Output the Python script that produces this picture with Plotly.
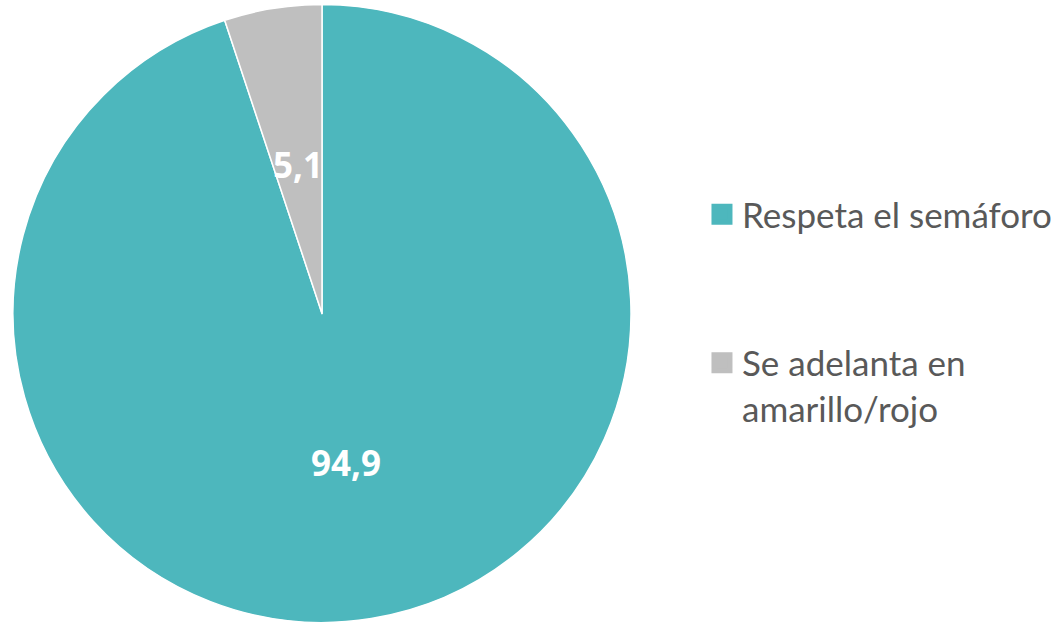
import math

import plotly.graph_objects as go

LABELS = ["Respeta el semáforo", "Se adelanta en<br>amarillo/rojo"]
VALUES = [94.9, 5.1]
VALUE_TEXT = ["94,9", "5,1"]
COLORS = ["#4DB7BD", "#BFBFBF"]

W, H = 1058, 625
FONT = "Lato, 'Open Sans', sans-serif"
LABEL_FONT = "'Open Sans', Lato, sans-serif"
TEXT_GREY = "#595959"

# pie placement in paper space (px)
CX, CY, R = 322, 313.5, 309
dom_x = [(CX - R) / W, (CX + R) / W]
dom_y = [(H - CY - R) / H, (H - CY + R) / H]

fig = go.Figure()

fig.add_trace(
    go.Pie(
        labels=LABELS,
        values=VALUES,
        sort=False,
        direction="clockwise",
        rotation=0,
        marker=dict(colors=COLORS, line=dict(color="white", width=1.5)),
        textinfo="none",
        hoverinfo="label+value",
        showlegend=False,
        domain=dict(x=dom_x, y=dom_y),
    )
)

# legend entries as dummy traces so the groups can be spaced apart
for i, (lab, col) in enumerate(zip(LABELS, COLORS)):
    fig.add_trace(
        go.Scatter(
            x=[None],
            y=[None],
            mode="markers",
            name=lab,
            legendgroup=f"g{i}",
            marker=dict(symbol="square", size=16, color=col, line=dict(color=col, width=5)),
            showlegend=True,
        )
    )

# value labels at half radius along each slice's mid-angle
total = sum(VALUES)
start = 0.0
for v, txt in zip(VALUES, VALUE_TEXT):
    mid = (start + v / 2) / total * 2 * math.pi
    start += v
    px_ = CX + 0.49 * R * math.sin(mid)
    py_ = CY - 0.49 * R * math.cos(mid)
    fig.add_annotation(
        x=px_ / W,
        y=1 - py_ / H,
        xref="paper",
        yref="paper",
        xanchor="center",
        yanchor="middle",
        text=f"<b>{txt}</b>",
        showarrow=False,
        font=dict(family=LABEL_FONT, size=35, color="white"),
    )

fig.update_layout(
    width=W,
    height=H,
    margin=dict(l=0, r=0, t=0, b=0),
    paper_bgcolor="white",
    plot_bgcolor="white",
    font=dict(family=FONT, color=TEXT_GREY),
    xaxis=dict(visible=False),
    yaxis=dict(visible=False),
    legend=dict(
        x=0.6635,
        y=0.704,
        xanchor="left",
        yanchor="top",
        valign="top",
        tracegroupgap=100,
        itemsizing="trace",
        font=dict(family=FONT, size=35, color=TEXT_GREY),
        bgcolor="rgba(0,0,0,0)",
    ),
)

fig.write_html(
    "out.html",
    config={"displayModeBar": False},
    post_script="document.body.style.margin='0';",
)
